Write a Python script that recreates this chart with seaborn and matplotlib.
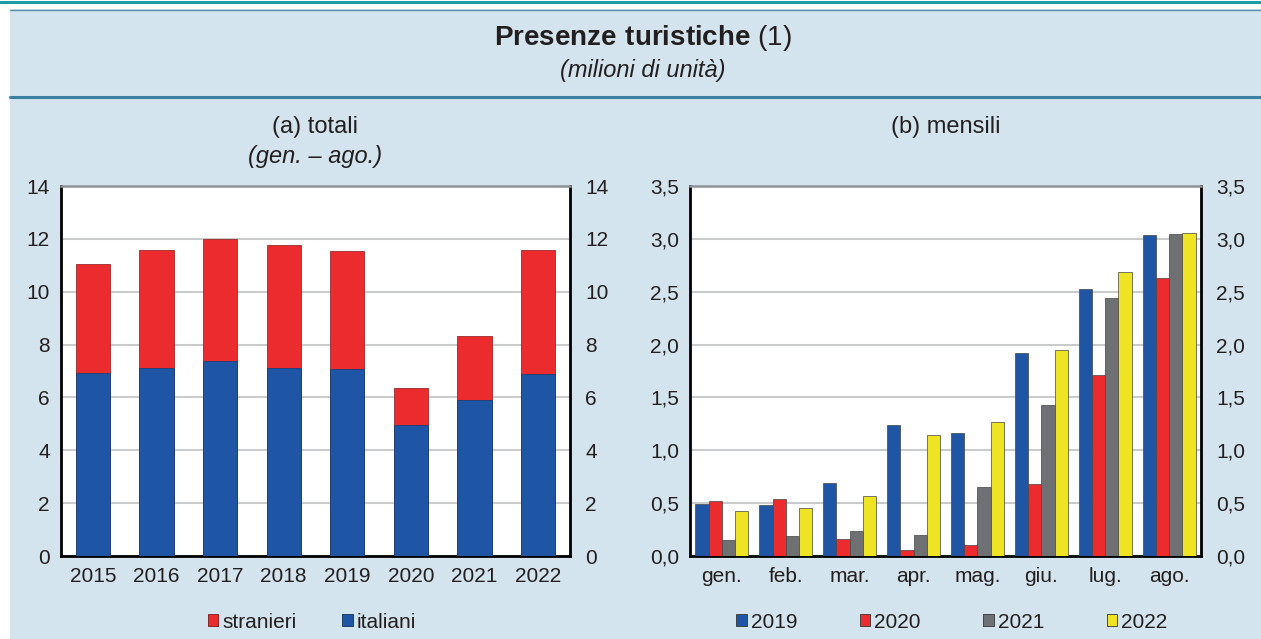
import matplotlib
matplotlib.use("Agg")
import matplotlib.pyplot as plt
import matplotlib.patches as mpatches
import matplotlib.lines as mlines
from matplotlib.ticker import FuncFormatter, MultipleLocator
import seaborn as sns
import pandas as pd
import numpy as np

# ---------------- data ----------------
years = ["2015", "2016", "2017", "2018", "2019", "2020", "2021", "2022"]
italiani = [6.91, 7.13, 7.37, 7.11, 7.08, 4.95, 5.90, 6.87]
stranieri = [4.13, 4.46, 4.61, 4.67, 4.46, 1.41, 2.42, 4.69]

months = ["gen.", "feb.", "mar.", "apr.", "mag.", "giu.", "lug.", "ago."]
series_years = ["2019", "2020", "2021", "2022"]
v2019 = [0.49, 0.48, 0.69, 1.24, 1.16, 1.92, 2.53, 3.04]
v2020 = [0.52, 0.54, 0.16, 0.06, 0.10, 0.68, 1.71, 2.63]
v2021 = [0.15, 0.19, 0.24, 0.20, 0.65, 1.43, 2.44, 3.05]
v2022 = [0.43, 0.45, 0.57, 1.14, 1.27, 1.95, 2.69, 3.06]

# ---------------- style ----------------
BG = "#D3E4EE"
TXT = "#231F20"
BLUE = "#1F55A5"
RED = "#EC2B2F"
GRAY = "#6E7073"
YELLOW = "#EEE424"
GRID = "#C9CBCD"

sns.set_theme(style="white")
plt.rcParams["font.family"] = ["Liberation Sans", "DejaVu Sans"]
plt.rcParams["text.color"] = TXT
plt.rcParams["mathtext.fontset"] = "custom"
plt.rcParams["mathtext.rm"] = "Liberation Sans"
plt.rcParams["mathtext.bf"] = "Liberation Sans:bold"

W, H = 1261, 639
fig = plt.figure(figsize=(W / 100, H / 100), dpi=100)
fig.patch.set_facecolor("white")

def fx(px):
    return px / W

def fy(py):
    return 1 - py / H

# panel background
fig.patches.append(mpatches.Rectangle((fx(10), 0), 1 - fx(10), fy(9), transform=fig.transFigure,
                                      facecolor=BG, edgecolor="none", zorder=-10))
fig.lines.append(mlines.Line2D([0, 1], [fy(1.5), fy(1.5)], transform=fig.transFigure,
                               color="#1C9BA3", lw=2.2, zorder=-5))
fig.lines.append(mlines.Line2D([fx(10), 1], [fy(10), fy(10)], transform=fig.transFigure,
                               color="#5A8FAE", lw=1.0, zorder=-5))
fig.lines.append(mlines.Line2D([fx(10), 1], [fy(96.5), fy(96.5)], transform=fig.transFigure,
                               color="#3B7FA3", lw=2.2, zorder=-5))

# header texts
fig.text(fx(643), fy(38), r"$\mathbf{Presenze\ turistiche}$ (1)", ha="center", va="center",
         fontsize=20, color=TXT)
fig.text(fx(643), fy(70), "(milioni di unità)", ha="center", va="center", fontsize=17,
         style="italic", color=TXT)

axL = fig.add_axes([fx(61), fy(556), fx(570) - fx(61), (556 - 186) / H])
axR = fig.add_axes([fx(690), fy(556), fx(1201) - fx(690), (556 - 186) / H])

# ---------------- left: stacked bars ----------------
dfL = pd.DataFrame({"anno": years, "italiani": italiani, "stranieri": stranieri})
dfL["totale"] = dfL["italiani"] + dfL["stranieri"]
sns.barplot(data=dfL, x="anno", y="totale", color=RED, ax=axL, width=0.54,
            edgecolor="#9a2a2a", linewidth=0.6, saturation=1, zorder=3)
sns.barplot(data=dfL, x="anno", y="italiani", color=BLUE, ax=axL, width=0.54,
            edgecolor="#1a3f78", linewidth=0.6, saturation=1, zorder=3)
axL.set_ylim(0, 14)
axL.set_xlim(-0.5, len(years) - 0.5)
axL.yaxis.set_major_locator(MultipleLocator(2))

# ---------------- right: grouped bars ----------------
dfR = pd.DataFrame({
    "mese": months * 4,
    "anno": sum([[y] * len(months) for y in series_years], []),
    "valore": v2019 + v2020 + v2021 + v2022,
})
pal = dict(zip(series_years, [BLUE, RED, GRAY, YELLOW]))
sns.barplot(data=dfR, x="mese", y="valore", hue="anno", palette=pal, ax=axR, width=0.83,
            edgecolor="#444444", linewidth=0.5, saturation=1, zorder=3, legend=False)
axR.set_ylim(0, 3.5)
axR.set_xlim(-0.5, len(months) - 0.5)
axR.yaxis.set_major_locator(MultipleLocator(0.5))
comma = FuncFormatter(lambda v, p: f"{v:.1f}".replace(".", ","))
axR.yaxis.set_major_formatter(comma)

for ax, fmt in ((axL, None), (axR, comma)):
    ax.set_facecolor("white")
    ax.set_xlabel("")
    ax.set_ylabel("")
    ax.grid(axis="y", color=GRID, lw=1.5, zorder=0)
    ax.set_axisbelow(True)
    for s in ("left", "bottom", "right"):
        ax.spines[s].set_color("black")
        ax.spines[s].set_linewidth(2.0)
    ax.spines["top"].set_color("#8E9396")
    ax.spines["top"].set_linewidth(1.8)
    ax.tick_params(axis="both", length=0, labelsize=15, colors=TXT)
    ax.tick_params(axis="y", pad=8)
    ax.tick_params(axis="x", pad=8)
    tw = ax.twinx()
    tw.set_ylim(ax.get_ylim())
    tw.yaxis.set_major_locator(ax.yaxis.get_major_locator())
    if fmt is not None:
        tw.yaxis.set_major_formatter(fmt)
    tw.tick_params(axis="y", length=0, labelsize=15, colors=TXT, pad=11)
    for s in tw.spines.values():
        s.set_visible(False)
    tw.grid(False)

# subplot titles
fig.text(fx(315.5), fy(127), "(a) totali", ha="center", va="center", fontsize=17)
fig.text(fx(315.5), fy(157), "(gen. – ago.)", ha="center", va="center", fontsize=17, style="italic")
fig.text(fx(945.5), fy(127), "(b) mensili", ha="center", va="center", fontsize=17)

# legends
hL = [mpatches.Patch(facecolor=RED, edgecolor="#7a1a1a", lw=0.6, label="stranieri"),
      mpatches.Patch(facecolor=BLUE, edgecolor="#10305a", lw=0.6, label="italiani")]
fig.legend(handles=hL, loc="center", bbox_to_anchor=(fx(312), fy(622)), ncol=2, frameon=False,
           fontsize=15, handlelength=0.5, handleheight=0.5, handletextpad=0.2, columnspacing=2.2,
           borderaxespad=0, borderpad=0)
hR = [mpatches.Patch(facecolor=pal[y], edgecolor="#333333", lw=0.6, label=y) for y in series_years]
fig.legend(handles=hR, loc="center", bbox_to_anchor=(fx(952), fy(622)), ncol=4, frameon=False,
           fontsize=15, handlelength=0.5, handleheight=0.5, handletextpad=0.2, columnspacing=3.0,
           borderaxespad=0, borderpad=0)

fig.savefig("out.png", dpi=100, facecolor=fig.get_facecolor())
